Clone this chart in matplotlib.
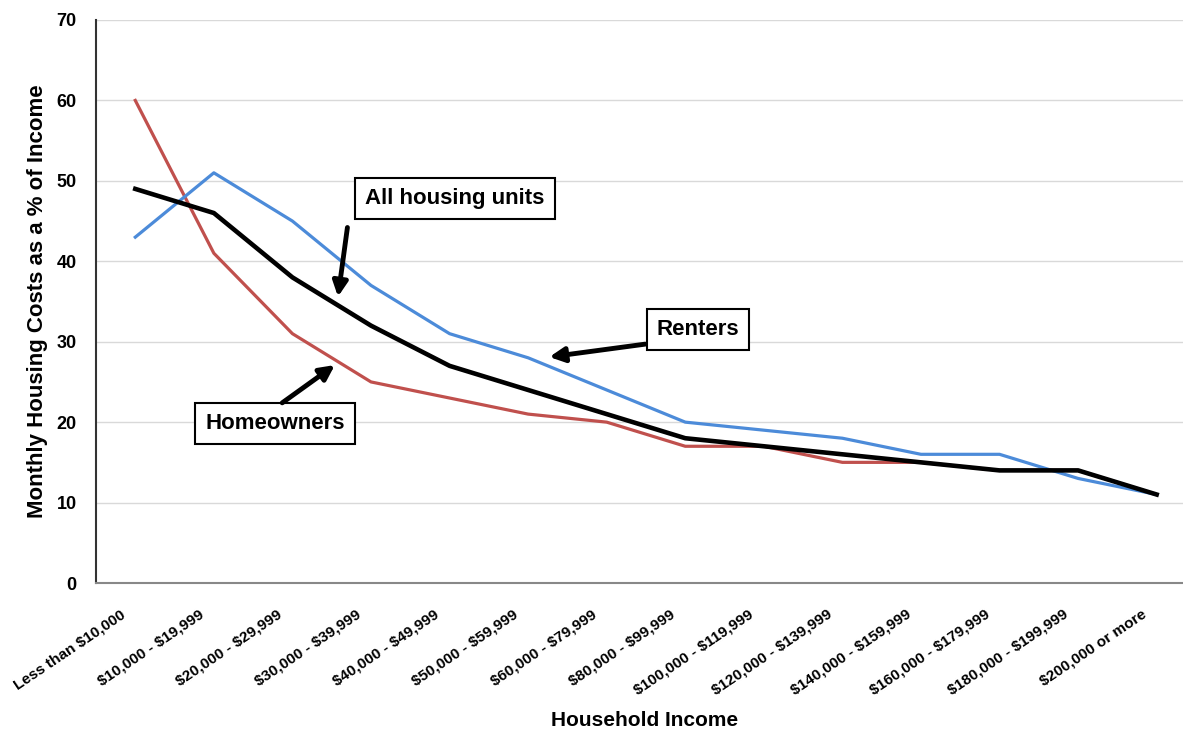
import numpy as np
import matplotlib.pyplot as plt

# 数据
categories = ['Less than $10,000', '$10,000 - $19,999', '$20,000 - $29,999',
              '$30,000 - $39,999', '$40,000 - $49,999', '$50,000 - $59,999',
              '$60,000 - $79,999', '$80,000 - $99,999', '$100,000 - $119,999',
              '$120,000 - $139,999', '$140,000 - $159,999', '$160,000 - $179,999',
              '$180,000 - $199,999', '$200,000 or more']
renters = [43, 51, 45, 37, 31, 28, 24, 20, 19, 18, 16, 16, 13, 11]
homeowners = [60, 41, 31, 25, 23, 21, 20, 17, 17, 15, 15, 14, 14, 11]
all_units = [49, 46, 38, 32, 27, 24, 21, 18, 17, 16, 15, 14, 14, 11]

plt.rcParams['font.family'] = ['Liberation Sans Narrow', 'Liberation Sans', 'DejaVu Sans']
plt.rcParams['font.weight'] = 'bold'

fig = plt.figure(figsize=(11.83, 7.31), dpi=100)
ax = fig.add_axes([96/1183, 1 - 583/731, 1 - 96/1183, (583 - 20)/731])

x = np.arange(len(categories))
ax.plot(x, homeowners, color='#C0504D', lw=2.3, zorder=3)
ax.plot(x, renters, color='#4C8BD9', lw=2.3, zorder=3)
ax.plot(x, all_units, color='black', lw=3.3, zorder=4)

ax.set_xlim(-0.5, 13.335)
ax.set_ylim(0, 70)
ax.set_yticks(range(0, 71, 10))
ax.set_xticks(x)
ax.set_xticklabels([])
# 斜着的刻度标签, 用 annotate 放, 方便调偏移
for i, c in enumerate(categories):
    ax.annotate(c.replace('$', r'\$'), xy=(i, 0), xycoords=ax.get_xaxis_transform(),
                xytext=(-8.4, -21.6), textcoords='offset points',
                rotation=34, ha='right', va='center', rotation_mode='anchor',
                fontsize=11, fontweight='bold', annotation_clip=False)
ax.tick_params(axis='y', labelsize=13, length=0, pad=14)
ax.tick_params(axis='x', length=0)
for lab in ax.get_yticklabels():
    lab.set_fontweight('bold')

ax.grid(axis='y', color='#D9D9D9', lw=1)
ax.set_axisbelow(True)
ax.spines['top'].set_visible(False)
ax.spines['right'].set_visible(False)
ax.spines['left'].set_color('#333333')
ax.spines['left'].set_linewidth(1.5)
ax.spines['bottom'].set_color('#888888')
ax.spines['bottom'].set_linewidth(1.5)

fig.text(645/1183, 1 - 720/731, 'Household Income', fontsize=15, fontweight='bold',
         ha='center', va='center')
ax.set_ylabel('Monthly Housing Costs as a % of Income', fontsize=16, fontweight='bold', labelpad=6)

box = dict(boxstyle='square,pad=0.45', fc='white', ec='black', lw=1.5)
arrow = dict(arrowstyle='-|>', lw=3.5, color='black', mutation_scale=22, shrinkA=0, shrinkB=0)

ax.text(4.07, 47.8, 'All housing units', fontsize=16, fontweight='bold',
        ha='center', va='center', bbox=box, zorder=6)
ax.annotate('', xy=(2.58, 35.6), xytext=(2.70, 44.2), arrowprops=arrow, zorder=6)

ax.text(7.16, 31.5, 'Renters', fontsize=16, fontweight='bold',
        ha='center', va='center', bbox=box, zorder=6)
ax.annotate('', xy=(5.27, 28.1), xytext=(6.49, 29.7), arrowprops=arrow, zorder=6)

ax.text(1.78, 19.8, 'Homeowners', fontsize=16, fontweight='bold',
        ha='center', va='center', bbox=box, zorder=6)
ax.annotate('', xy=(2.54, 27.1), xytext=(1.87, 22.4), arrowprops=arrow, zorder=6)

fig.savefig('out.png', dpi=100)
